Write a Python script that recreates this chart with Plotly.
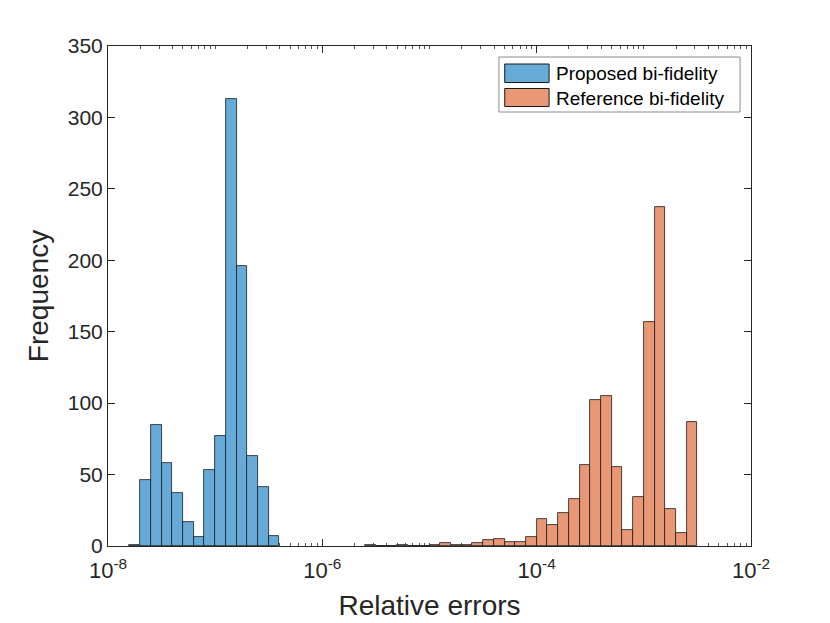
import numpy as np
import plotly.graph_objects as go

# Histogram data: bins in log10(relative error), width 0.1 decade
bin_width = 0.1
proposed_left_edges = [-7.8, -7.7, -7.6, -7.5, -7.4, -7.3, -7.2, -7.1, -7.0,
                       -6.9, -6.8, -6.7, -6.6, -6.5]
proposed_counts = [1, 46, 85, 58, 37, 17, 6, 53, 77, 313, 196, 63, 41, 7]

reference_left_edges = [-5.6, -5.5, -5.4, -5.3, -5.2, -5.1, -5.0, -4.9, -4.8,
                        -4.7, -4.6, -4.5, -4.4, -4.3, -4.2, -4.1, -4.0, -3.9,
                        -3.8, -3.7, -3.6, -3.5, -3.4, -3.3, -3.2, -3.1, -3.0,
                        -2.9, -2.8, -2.7, -2.6]
reference_counts = [1, 0, 0, 1, 0, 0, 1, 2, 1, 1, 2, 4, 5, 3, 3, 6, 19, 15,
                    23, 33, 57, 102, 105, 55, 11, 34, 157, 237, 26, 9, 87]

series_names = ["Proposed bi-fidelity", "Reference bi-fidelity"]
series_colors = ["#66AAD7", "#E89875"]

x_tick_exponents = [-8, -6, -4, -2]
x_tick_labels = ["10<sup>-8</sup>", "10<sup>-6</sup>", "10<sup>-4</sup>", "10<sup>-2</sup>"]
y_ticks = [0, 50, 100, 150, 200, 250, 300, 350]

FONT = "Liberation Sans, Arial, Helvetica, sans-serif"
AX = "#262626"
EDGE = "#1a1a1a"

fig = go.Figure()
for lefts, counts, name, color in [
    (proposed_left_edges, proposed_counts, series_names[0], series_colors[0]),
    (reference_left_edges, reference_counts, series_names[1], series_colors[1]),
]:
    fig.add_trace(go.Bar(
        x=[e + bin_width / 2 for e in lefts], y=counts,
        width=bin_width, name=name, showlegend=False,
        marker=dict(color=color, line=dict(color=EDGE, width=0.8)),
    ))

minor_vals = []
for n in range(-8, -2):
    if n % 2 != 0:
        minor_vals.append(n)
    for k in range(2, 10):
        minor_vals.append(n + np.log10(k))

# Legend drawn as a boxed key (paper coordinates)
shapes = [dict(type="rect", xref="paper", yref="paper", x0=0.608, x1=0.983,
               y0=0.868, y1=0.978, line=dict(color="#8c8c8c", width=1),
               fillcolor="white", layer="above")]
annotations = []
rows = [(0.964, 0.927, 0.946), (0.915, 0.879, 0.896)]
for (ytop, ybot, ytext), name, color in zip(rows, series_names, series_colors):
    shapes.append(dict(type="rect", xref="paper", yref="paper", x0=0.617, x1=0.686,
                       y0=ybot, y1=ytop, line=dict(color=EDGE, width=1),
                       fillcolor=color, layer="above"))
    annotations.append(dict(xref="paper", yref="paper", x=0.693, y=ytext,
                            xanchor="left", yanchor="middle", text=name,
                            showarrow=False, font=dict(size=19, color="black")))

fig.update_layout(
    width=830, height=623,
    margin=dict(l=100, r=87, t=38, b=85),
    paper_bgcolor="white", plot_bgcolor="white",
    barmode="overlay", bargap=0,
    font=dict(family=FONT, color=AX),
    showlegend=False,
    shapes=shapes, annotations=annotations,
    xaxis=dict(
        range=[-8, -2], tickvals=x_tick_exponents, ticktext=x_tick_labels,
        ticks="inside", ticklen=7, tickcolor=AX, showline=True, linecolor=AX,
        linewidth=1, mirror="ticks", showgrid=False, zeroline=False,
        layer="below traces",
        tickfont=dict(size=22, color=AX), ticklabelstandoff=5,
        minor=dict(tickvals=minor_vals, ticks="inside", ticklen=3, tickcolor="#555555", showgrid=False),
        title=dict(text="Relative errors", font=dict(size=28, color=AX), standoff=12),
    ),
    yaxis=dict(
        range=[0, 350], tickvals=y_ticks,
        ticks="inside", ticklen=7, tickcolor=AX, showline=True, linecolor=AX,
        linewidth=1, mirror="ticks", showgrid=False, zeroline=False,
        tickfont=dict(size=21, color=AX),
        title=dict(text="Frequency", font=dict(size=28, color=AX), standoff=10),
    ),
)

fig.write_html("out.html")
